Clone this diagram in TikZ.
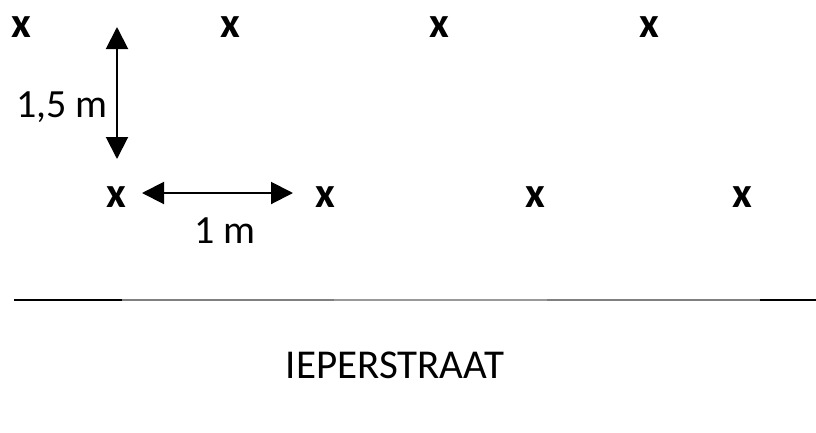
\documentclass[tikz,border=0pt]{standalone}
\usepackage{fontspec}
\setmainfont{Carlito}
\usetikzlibrary{arrows.meta}
\begin{document}
\begin{tikzpicture}[x=1pt,y=-1pt,
  tree/.style={inner sep=0pt,font=\fontsize{43}{43}\selectfont\bfseries},
  lbl/.style={inner sep=0pt,anchor=base,font=\fontsize{40}{40}\selectfont},
  dim/.style={line width=2pt,draw=black,{Triangle[length=22pt,width=22pt]}-{Triangle[length=22pt,width=22pt]}},
  road/.style={line width=2pt}]
\useasboundingbox[fill=white] (0,0) rectangle (816,432);
% top row
\node[tree] (t1) at (21,27) {x};
\node[tree] (t2) at (230,27) {x};
\node[tree] (t3) at (439,27) {x};
\node[tree] (t4) at (649,27) {x};
% bottom row
\node[tree] (b1) at (116,197) {x};
\node[tree] (b2) at (325,197) {x};
\node[tree] (b3) at (535,197) {x};
\node[tree] (b4) at (742,197) {x};
% dimension arrows
\coordinate (v1) at (117,27);
\coordinate (v2) at (117,159);
\draw[dim] (v1) -- (v2);
\coordinate (h1) at (142,193);
\coordinate (h2) at (293,193);
\draw[dim] (h1) -- (h2);
\node[lbl] (l15) at (62,117) {1,5 m};
\node[lbl] (l1) at (225,243) {1 m};
% road line
\coordinate (r0) at (14,300);
\coordinate (r1) at (122,300);
\coordinate (r2) at (334,300);
\coordinate (r3) at (547,300);
\coordinate (r4) at (760,300);
\coordinate (r5) at (816,300);
\draw[road,black] (r0) -- (r1);
\draw[road,black!50] (r1) -- (r2);
\draw[road,black!40] (r2) -- (r3);
\draw[road,black!50] (r3) -- (r4);
\draw[road,black] (r4) -- (r5);
\node[lbl,font=\fontsize{41}{41}\selectfont] (street) at (395,378) {IEPERSTRAAT};
\end{tikzpicture}
\end{document}
